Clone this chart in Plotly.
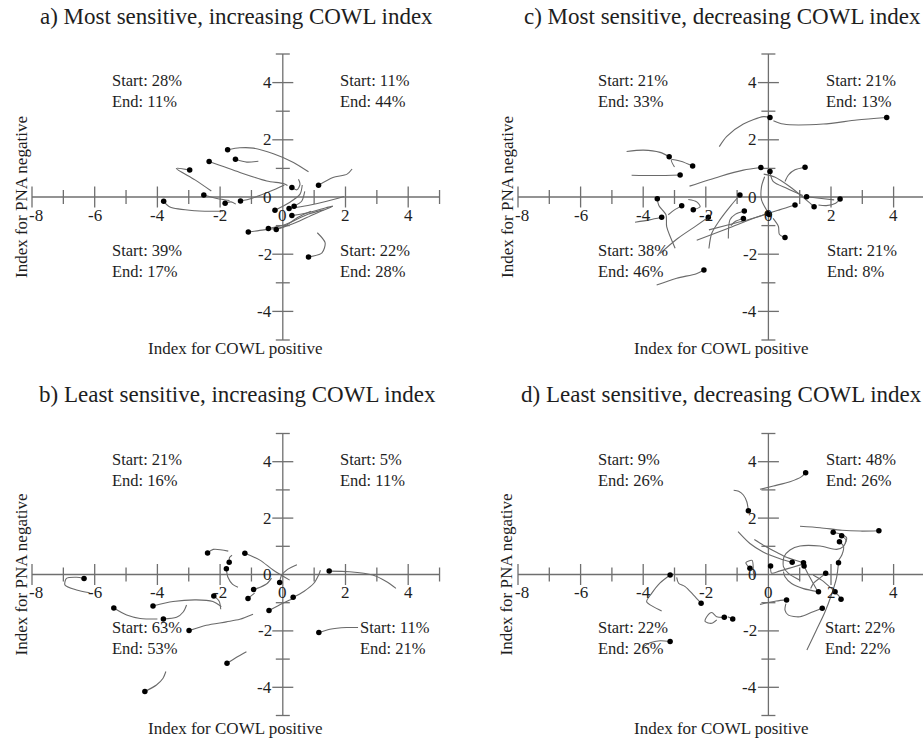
import plotly.graph_objects as go

# ---------------- data (trajectories: first point = start, drawn with a dot) -------------
A_X = [[-1.76, -1.37, -0.94, -0.3, 0.34, 0.82], [-1.51, -1.15, -0.78], [-2.35, -1.37, -0.51, 0.02, 0.15],
       [-2.97, -3.4, -2.8, -2.28], [-2.52, -2.1, -1.7], [-3.8, -3.6, -2.8, -1.9], [-1.84, -1.65, -1.5],
       [-1.35, -1.0, -0.4, 0.05], [1.14, 1.6, 2.05, 2.21], [0.29, 0.45, 0.55, 0.5], [-0.25, 0.2, 0.55, 0.62],
       [0.2, 0.8, 1.4, 1.95], [0.36, 0.6, 0.7], [0.29, 0.8, 1.3, 1.6], [-1.1, -0.6, 0.0, 0.5, 0.9],
       [-0.46, 0.1, 0.8, 1.3], [-0.21, 0.4, 1.0, 1.55], [0.82, 1.25, 1.35, 1.1]]
A_Y = [[1.65, 1.72, 1.71, 1.51, 1.21, 0.88], [1.32, 1.22, 1.25], [1.24, 0.86, 0.56, 0.47, 0.4],
       [0.94, 1.0, 0.6, 0.21], [0.07, -0.05, -0.12], [-0.15, -0.35, -0.48, -0.5], [-0.22, -0.17, -0.25],
       [-0.14, -0.05, 0.2, 0.42], [0.41, 0.68, 0.8, 0.98], [0.33, 0.25, 0.45, 0.62], [-0.46, -0.2, 0.1, 0.42],
       [-0.4, -0.3, -0.15, 0.02], [-0.32, -0.15, 0.2], [-0.65, -0.55, -0.4, -0.32], [-1.22, -1.15, -1.05, -0.7, -0.5],
       [-1.1, -0.95, -0.6, -0.45], [-1.14, -0.9, -0.6, -0.35], [-2.1, -1.95, -1.6, -1.25]]

B_X = [[-2.40, -2.22, -1.74], [-1.21, -0.73, -0.31, 0.22], [-1.71, -1.7, -1.62], [-1.8, -1.75, -1.6, -1.43],
       [1.48, 2.13, 2.87, 3.3, 3.61], [-6.34, -6.58, -6.9, -6.95, -6.58, -6.16], [-0.1, -0.05, 0.15, 0.45],
       [-0.93, -0.72, -0.5, -0.36], [-2.2, -2.03, -1.98], [-1.11, -1.0, -0.9], [0.33, 0.67, 0.99, 1.15, 1.2],
       [-5.39, -4.98, -4.55, -4.0], [-4.14, -3.5, -2.76, -2.23, -1.96], [-3.81, -3.39, -3.17, -3.07],
       [-0.44, 0.0, 0.3], [-2.99, -2.44, -1.8, -1.37, -0.95], [1.15, 1.5, 2.03, 2.4], [-1.78, -1.5, -1.16],
       [-4.4, -4.03, -3.82, -3.73]]
B_Y = [[0.76, 0.89, 0.83], [0.75, 0.51, 0.16, -0.2], [0.43, 0.6, 0.68], [0.2, -0.1, -0.35, -0.45],
       [0.12, 0.1, -0.02, -0.25, -0.49], [-0.14, -0.1, -0.14, -0.37, -0.55, -0.65], [-0.28, -0.05, 0.18, 0.35],
       [-0.53, -0.45, -0.32, -0.13], [-0.76, -0.95, -1.23], [-0.85, -0.75, -0.66], [-0.81, -0.6, -0.31, 0.0, 0.15],
       [-1.19, -1.44, -1.56, -1.58], [-1.12, -0.96, -0.9, -0.96, -1.14], [-1.58, -1.52, -1.32, -1.08],
       [-1.28, -1.02, -0.87], [-1.99, -1.8, -1.68, -1.59, -1.41], [-2.06, -1.94, -1.88, -1.88], [-3.15, -2.95, -2.74],
       [-4.15, -3.92, -3.68, -3.44]]

C_X = [[3.78, 2.82, 1.75, 0.48, 0.16], [0.05, -0.16, -0.8, -1.33, -1.57], [-3.17, -3.46, -3.99, -4.53],
       [-2.42, -2.8, -3.1, -3.0], [-2.82, -3.57, -4.37], [-0.24, -0.8, -1.55, -2.52], [0.05, 0.15, 0.6, 1.1],
       [1.17, 0.85, 0.64, 0.53], [1.22, 1.7, 2.1], [2.29, 2.15, 1.85, 1.6], [1.46, 1.15, 0.7, 0.2, -0.15],
       [0.85, 0.35, -0.4, -1.3, -2.29], [0.03, -0.22, -0.22, -0.12], [-0.03, -0.6, -1.3, -1.9],
       [0.53, 0.35, 0.32, 0.15], [-3.55, -3.5, -3.27, -3.25, -2.98], [-3.41, -3.8, -4.26], [-2.77, -3.0, -3.2],
       [-2.40, -2.18, -2.29, -2.56], [-1.92, -2.3, -2.9, -3.46], [-2.06, -2.3, -2.93, -3.57],
       [-0.91, -1.2, -1.55, -1.81, -1.9], [-0.77, -1.05, -1.23, -1.28], [-0.8, -1.05, -1.2]]
C_Y = [[2.78, 2.69, 2.55, 2.55, 2.67], [2.78, 2.81, 2.55, 2.12, 1.76], [1.41, 1.56, 1.64, 1.59],
       [1.08, 1.25, 1.3, 1.05], [0.77, 0.75, 0.76], [1.03, 0.94, 0.72, 0.38], [0.89, 0.55, 0.3, 0.05],
       [1.04, 0.95, 0.77, 0.54], [0.01, -0.05, -0.1], [-0.07, -0.22, -0.3, -0.28], [-0.34, -0.05, 0.35, 0.7, 0.8],
       [-0.28, -0.45, -0.72, -1.1, -1.51], [-0.61, -0.1, 0.36, 0.71], [-0.58, -0.78, -0.98, -1.15],
       [-1.42, -1.3, -1.03, -0.75], [-0.06, -0.3, -0.63, -1.04, -1.79], [-0.71, -0.8, -0.88], [-0.31, -0.45, -0.62],
       [-0.45, -0.34, -0.17, -0.09], [-0.71, -1.0, -1.45, -1.97], [-2.55, -2.68, -2.84, -3.08],
       [0.07, -0.3, -0.8, -1.27, -1.8], [-0.49, -0.6, -0.8, -1.45], [-0.75, -0.85, -1.0]]

D_X = [[1.19, 1.06, 0.69, 0.16, -0.27], [-0.64, -0.69, -0.8, -0.95, -1.11], [3.53, 2.93, 2.35, 1.65, 1.01],
       [2.07, 2.35, 2.5, 2.45], [2.34, 2.48, 2.39, 2.18, 1.65, 1.01, 0.69, 0.5, 0.48, 0.64, 1.01],
       [2.27, 2.4, 2.35, 2.24], [2.24, 2.18, 2.02, 1.8, 1.52, 1.23], [0.76, 0.37, -0.17, -0.59, -0.97],
       [1.12, 0.6, 0.29, -0.1, -0.45], [1.14, 1.25, 1.43, 1.55], [0.07, 0.1, 0.35, 0.75, 1.05],
       [-0.59, -0.72, -0.52, -0.48, -0.45], [1.83, 1.65, 1.45, 1.35], [-3.14, -3.46, -3.73, -3.89, -3.68, -3.41],
       [-2.15, -2.39, -2.66, -2.87, -2.93], [-1.41, -1.65, -1.81, -1.97, -2.02, -1.81, -1.65], [-1.14, -1.3],
       [-3.14, -3.46, -3.78, -3.99], [1.6, 1.12, 0.74, 0.53, 0.48], [2.13, 1.95, 1.7, 1.43], [2.32, 2.23, 2.07],
       [0.58, 0.25, -0.27], [1.72, 1.43, 1.01, 0.64, 0.53, 0.56]]
D_Y = [[3.61, 3.47, 3.29, 3.14, 3.02], [2.26, 2.58, 2.82, 2.95, 2.99], [1.55, 1.54, 1.57, 1.66, 1.71],
       [1.5, 1.42, 1.3, 1.1], [1.37, 1.22, 0.99, 0.89, 1.01, 1.01, 0.87, 0.63, 0.28, 0.04, -0.2],
       [1.16, 1.0, 0.7, 0.5], [0.42, -0.1, -0.7, -1.35, -2.0, -2.68], [0.43, 0.56, 0.8, 1.1, 1.52],
       [0.42, 0.6, 0.77, 1.0, 1.24], [0.3, 0.05, -0.31, -0.55], [0.3, 0.05, 0.12, 0.25, 0.35],
       [0.22, 0.42, 0.5, 0.1, -0.15], [0.04, -0.12, -0.3, -0.5], [-0.02, -0.3, -0.67, -0.96, -1.14, -1.29],
       [-1.02, -0.73, -0.43, -0.31, -0.1], [-1.52, -1.5, -1.35, -1.5, -1.67, -1.73, -1.61], [-1.58, -1.5],
       [-2.38, -2.35, -2.42, -2.56], [-0.61, -0.5, -0.32, -0.08, 0.1], [-0.61, -0.43, -0.2, -0.02], [-0.88, -0.73, -0.62],
       [-0.9, -0.94, -1.06], [-1.2, -1.32, -1.5, -1.44, -1.26, -1.03]]

# quadrant percentages: order = top-left, top-right, bottom-left, bottom-right
A_START = [28, 11, 39, 22]; A_END = [11, 44, 17, 28]
B_START = [21, 5, 63, 11];  B_END = [16, 11, 53, 21]
C_START = [21, 21, 38, 21]; C_END = [33, 13, 46, 8]
D_START = [9, 48, 22, 22];  D_END = [26, 26, 26, 22]

TITLES = ["a) Most sensitive, increasing COWL index", "b) Least sensitive, increasing COWL index",
          "c) Most sensitive, decreasing COWL index", "d) Least sensitive, decreasing COWL index"]
X_TICKS = [-8, -6, -4, -2, 0, 2, 4]
Y_TICKS = [-4, -2, 0, 2, 4]
X_TITLE = "Index for COWL positive"
Y_TITLE = "Index for PNA negative"

# ---------------- styling / layout -------------
W, H = 923, 739
SERIF = "Liberation Serif"
AXC = "#6f6f6f"
LC = "#6a6a6a"
TXT = "#1e1e1e"

panels = [
    dict(tx=A_X, ty=A_Y, st=A_START, en=A_END, title=TITLES[0], x0=32, xs=31.35, y0=197.0, ys=28.6,
         xmax=5.0, br=1.77, tcx=236, tcy=17, xtcy=348, ytcx=21),
    dict(tx=B_X, ty=B_Y, st=B_START, en=B_END, title=TITLES[1], x0=32, xs=31.35, y0=574.5, ys=28.2,
         xmax=5.0, br=2.39, tcx=237, tcy=394, xtcy=728, ytcx=21),
    dict(tx=C_X, ty=C_Y, st=C_START, en=C_END, title=TITLES[2], x0=518, xs=31.3, y0=197.0, ys=28.6,
         xmax=(W - 518) / 31.3 - 8, br=1.81, tcx=722, tcy=17, xtcy=348, ytcx=507),
    dict(tx=D_X, ty=D_Y, st=D_START, en=D_END, title=TITLES[3], x0=518, xs=31.3, y0=574.5, ys=28.2,
         xmax=(W - 518) / 31.3 - 8, br=1.75, tcx=721, tcy=394, xtcy=728, ytcx=506),
]

fig = go.Figure()
annotations = []
layout = dict(width=W, height=H, margin=dict(l=0, r=0, t=0, b=0), autosize=False,
              paper_bgcolor="white", plot_bgcolor="white", showlegend=False,
              font=dict(family=SERIF, color=TXT))

for i, p in enumerate(panels):
    n = i + 1
    xa = "x" if n == 1 else f"x{n}"
    ya = "y" if n == 1 else f"y{n}"
    xk = "xaxis" if n == 1 else f"xaxis{n}"
    yk = "yaxis" if n == 1 else f"yaxis{n}"
    xmin = -8.0
    xmax_px = p["x0"] + (p["xmax"] - xmin) * p["xs"]
    ytop_px = p["y0"] - 5 * p["ys"]
    ybot_px = p["y0"] + 5 * p["ys"]
    layout[xk] = dict(domain=[p["x0"] / W, min(1.0, xmax_px / W)], range=[xmin, p["xmax"]],
                      visible=False, fixedrange=True)
    layout[yk] = dict(domain=[1 - ybot_px / H, 1 - ytop_px / H], range=[-5, 5], anchor=xa,
                      visible=False, fixedrange=True)
    if n > 1:
        layout[xk]["anchor"] = ya

    xend = min(5.0, p["xmax"])
    # axis lines
    fig.add_trace(go.Scatter(x=[xmin, xend], y=[0, 0], mode="lines", line=dict(color=AXC, width=1.3),
                             xaxis=xa, yaxis=ya, hoverinfo="skip", cliponaxis=False))
    fig.add_trace(go.Scatter(x=[0, 0], y=[-5, 5], mode="lines", line=dict(color=AXC, width=1.3),
                             xaxis=xa, yaxis=ya, hoverinfo="skip", cliponaxis=False))
    # ticks
    xmaj = [v for v in X_TICKS if v != 0]
    xmin_t = [v for v in range(-7, 6, 2) if v <= xend + 1e-9]
    ymaj = [v for v in Y_TICKS if v != 0]
    ymin_t = [-5, -3, -1, 1, 3, 5]
    fig.add_trace(go.Scatter(x=xmaj, y=[0] * len(xmaj), mode="markers", xaxis=xa, yaxis=ya, cliponaxis=False,
                             marker=dict(symbol="line-ns", size=15, line=dict(color=AXC, width=1.3)),
                             hoverinfo="skip"))
    fig.add_trace(go.Scatter(x=xmin_t, y=[0] * len(xmin_t), mode="markers", xaxis=xa, yaxis=ya, cliponaxis=False,
                             marker=dict(symbol="line-ns", size=10, line=dict(color=AXC, width=1.3)),
                             hoverinfo="skip"))
    fig.add_trace(go.Scatter(x=[0] * len(ymaj), y=ymaj, mode="markers", xaxis=xa, yaxis=ya, cliponaxis=False,
                             marker=dict(symbol="line-ew", size=15, line=dict(color=AXC, width=1.3)),
                             hoverinfo="skip"))
    fig.add_trace(go.Scatter(x=[0] * len(ymin_t), y=ymin_t, mode="markers", xaxis=xa, yaxis=ya, cliponaxis=False,
                             marker=dict(symbol="line-ew", size=10, line=dict(color=AXC, width=1.3)),
                             hoverinfo="skip"))
    # trajectories
    for tx, ty in zip(p["tx"], p["ty"]):
        fig.add_trace(go.Scatter(x=tx, y=ty, mode="lines", line=dict(color=LC, width=1.1, shape="spline",
                                 smoothing=0.8), xaxis=xa, yaxis=ya, hoverinfo="skip", cliponaxis=False))
    fig.add_trace(go.Scatter(x=[t[0] for t in p["tx"]], y=[t[0] for t in p["ty"]], mode="markers",
                             marker=dict(color="black", size=5.5), xaxis=xa, yaxis=ya, hoverinfo="skip",
                             cliponaxis=False))
    # tick labels
    for v in X_TICKS:
        annotations.append(dict(x=v, y=0, xref=xa, yref=ya, text=str(v), showarrow=False,
                                yshift=-18, xshift=4 if v == -8 else 0,
                                font=dict(family=SERIF, size=17, color=TXT)))
    for v in Y_TICKS:
        annotations.append(dict(x=0, y=v, xref=xa, yref=ya, text=str(v), showarrow=False,
                                xanchor="right", xshift=-9, font=dict(family=SERIF, size=17, color=TXT)))
    # quadrant labels (two lines in one text)
    qpos = [(-5.52, 3.72), (1.77, 3.72), (-5.52, -2.25), (p["br"], -2.25)]
    for (qx, qy), s, e in zip(qpos, p["st"], p["en"]):
        annotations.append(dict(x=qx, y=qy, xref=xa, yref=ya, text=f"Start: {s}%<br>End: {e}%",
                                showarrow=False, xanchor="left", yanchor="middle", align="left",
                                font=dict(family=SERIF, size=16.5, color=TXT)))
    # titles
    annotations.append(dict(x=p["tcx"] / W, y=1 - p["tcy"] / H, xref="paper", yref="paper", text=p["title"],
                            showarrow=False, xanchor="center", yanchor="middle",
                            font=dict(family=SERIF, size=23, color=TXT)))
    annotations.append(dict(x=(p["x0"] + 8 * p["xs"] - 47) / W, y=1 - p["xtcy"] / H, xref="paper", yref="paper",
                            text=X_TITLE, showarrow=False, xanchor="center", yanchor="middle",
                            font=dict(family=SERIF, size=17, color=TXT)))
    annotations.append(dict(x=p["ytcx"] / W, y=1 - p["y0"] / H, xref="paper", yref="paper", text=Y_TITLE,
                            showarrow=False, textangle=-90, xanchor="center", yanchor="middle",
                            font=dict(family=SERIF, size=17, color=TXT)))

layout["annotations"] = annotations
fig.update_layout(**layout)
fig.write_html("out.html")
